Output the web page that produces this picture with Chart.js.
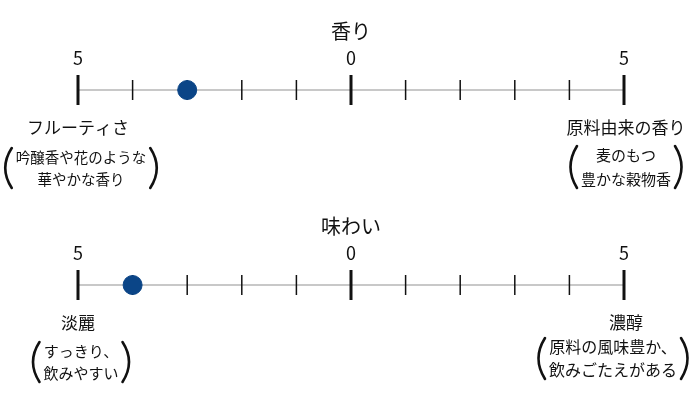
<!DOCTYPE html>
<html lang="ja">
<head>
<meta charset="utf-8">
<script src="https://cdn.jsdelivr.net/npm/chart.js@4/dist/chart.umd.min.js"></script>
<style>
  html, body { margin: 0; padding: 0; background: #fff; }
  #wrap { width: 700px; height: 400px; }
</style>
</head>
<body>
<div id="wrap"><canvas id="chart"></canvas></div>
<script>
// Rows (top to bottom)
const axisNames = ['香り', '味わい'];
const leftLabels = ['フルーティさ', '淡麗'];
const leftNotes = [['吟醸香や花のような', '華やかな香り'], ['すっきり、', '飲みやすい']];
const rightLabels = ['原料由来の香り', '濃醇'];
const rightNotes = [['麦のもつ', '豊かな穀物香'], ['原料の風味豊か、', '飲みごたえがある']];
const scores = [-3, -4];
const rowValues = [1, 0];
const tickValues = [-5, -4, -3, -2, -1, 0, 1, 2, 3, 4, 5];
const majorTicks = [-5, 0, 5];

const FONT = '"Noto Sans CJK JP", "Noto Sans", sans-serif';

function drawParens(ctx, cx, lines, top, bottom, fontPx) {
    ctx.font = fontPx + 'px ' + FONT;
    const w = Math.max(...lines.map(l => ctx.measureText(l).width));
    const l = cx - w / 2 - 4;
    const r = cx + w / 2 + 4;
    ctx.save();
    ctx.strokeStyle = '#111';
    ctx.lineWidth = 2.6;
    ctx.lineCap = 'round';
    ctx.beginPath();
    ctx.moveTo(l, top);
    ctx.quadraticCurveTo(l - 13, (top + bottom) / 2, l, bottom);
    ctx.moveTo(r, top);
    ctx.quadraticCurveTo(r + 13, (top + bottom) / 2, r, bottom);
    ctx.stroke();
    ctx.restore();
}

const scalePlugin = {
    id: 'scaleRows',
    beforeDatasetsDraw(chart) {
        const ctx = chart.ctx;
        const xs = chart.scales.x;
        const ys = chart.scales.y;
        ctx.save();
        rowValues.forEach((rv, i) => {
            const y = ys.getPixelForValue(rv);
            const x0 = xs.getPixelForValue(-5);
            const x1 = xs.getPixelForValue(5);
            const xc = xs.getPixelForValue(0);

            // axis line
            ctx.strokeStyle = '#c8c8c8';
            ctx.lineWidth = 2;
            ctx.beginPath();
            ctx.moveTo(x0, y);
            ctx.lineTo(x1, y);
            ctx.stroke();

            // tick marks
            ctx.strokeStyle = '#111';
            tickValues.forEach(v => {
                const x = xs.getPixelForValue(v);
                const major = majorTicks.includes(v);
                ctx.lineWidth = major ? 3 : 1.5;
                ctx.beginPath();
                ctx.moveTo(x, y - (major ? 15 : 10));
                ctx.lineTo(x, y + (major ? 15 : 10));
                ctx.stroke();
            });

            ctx.fillStyle = '#111';
            ctx.textAlign = 'center';
            ctx.textBaseline = 'middle';

            // tick labels
            ctx.font = '18px ' + FONT;
            majorTicks.forEach(v => {
                ctx.fillText(String(Math.abs(v)), xs.getPixelForValue(v), y - 32);
            });

            // row title
            ctx.font = '20px ' + FONT;
            ctx.fillText(axisNames[i], xc, y - 59);

            // end labels
            const subPx = i === 1 ? [15, 16] : [14.5, 15];
            ctx.font = '17px ' + FONT;
            ctx.fillText(leftLabels[i], x0, y + 38);
            ctx.fillText(rightLabels[i], x1 + 2, y + 38);

            const lOff = i === 1 ? [66, 88] : [67, 89];
            const rOff = i === 1 ? [62, 85] : [65, 89];

            ctx.font = subPx[0] + 'px ' + FONT;
            leftNotes[i].forEach((t, k) => ctx.fillText(t, x0 + 3, y + lOff[k]));
            drawParens(ctx, x0 + 3, leftNotes[i], y + lOff[0] - 9, y + lOff[1] + 9, subPx[0]);

            ctx.fillStyle = '#111';
            ctx.font = subPx[1] + 'px ' + FONT;
            const rcx = i === 1 ? x1 - 11 : x1 + 2;
            rightNotes[i].forEach((t, k) => ctx.fillText(t, rcx, y + rOff[k]));
            drawParens(ctx, rcx, rightNotes[i], y + rOff[0] - 9, y + rOff[1] + 9, subPx[1]);
        });
        ctx.restore();
    }
};

new Chart(document.getElementById('chart'), {
    type: 'scatter',
    data: {
        datasets: [{
            data: scores.map((s, i) => ({ x: s, y: rowValues[i] })),
            backgroundColor: '#0b4587',
            borderColor: '#0b4587',
            pointRadius: 9.5,
            pointHoverRadius: 9.5,
            clip: false
        }]
    },
    options: {
        responsive: true,
        maintainAspectRatio: false,
        animation: false,
        layout: { padding: { left: 78, right: 76, top: 90, bottom: 115 } },
        plugins: { legend: { display: false }, tooltip: { enabled: false } },
        scales: {
            x: { type: 'linear', min: -5, max: 5, display: false },
            y: { type: 'linear', min: 0, max: 1, display: false }
        }
    },
    plugins: [scalePlugin]
});
</script>
</body>
</html>
